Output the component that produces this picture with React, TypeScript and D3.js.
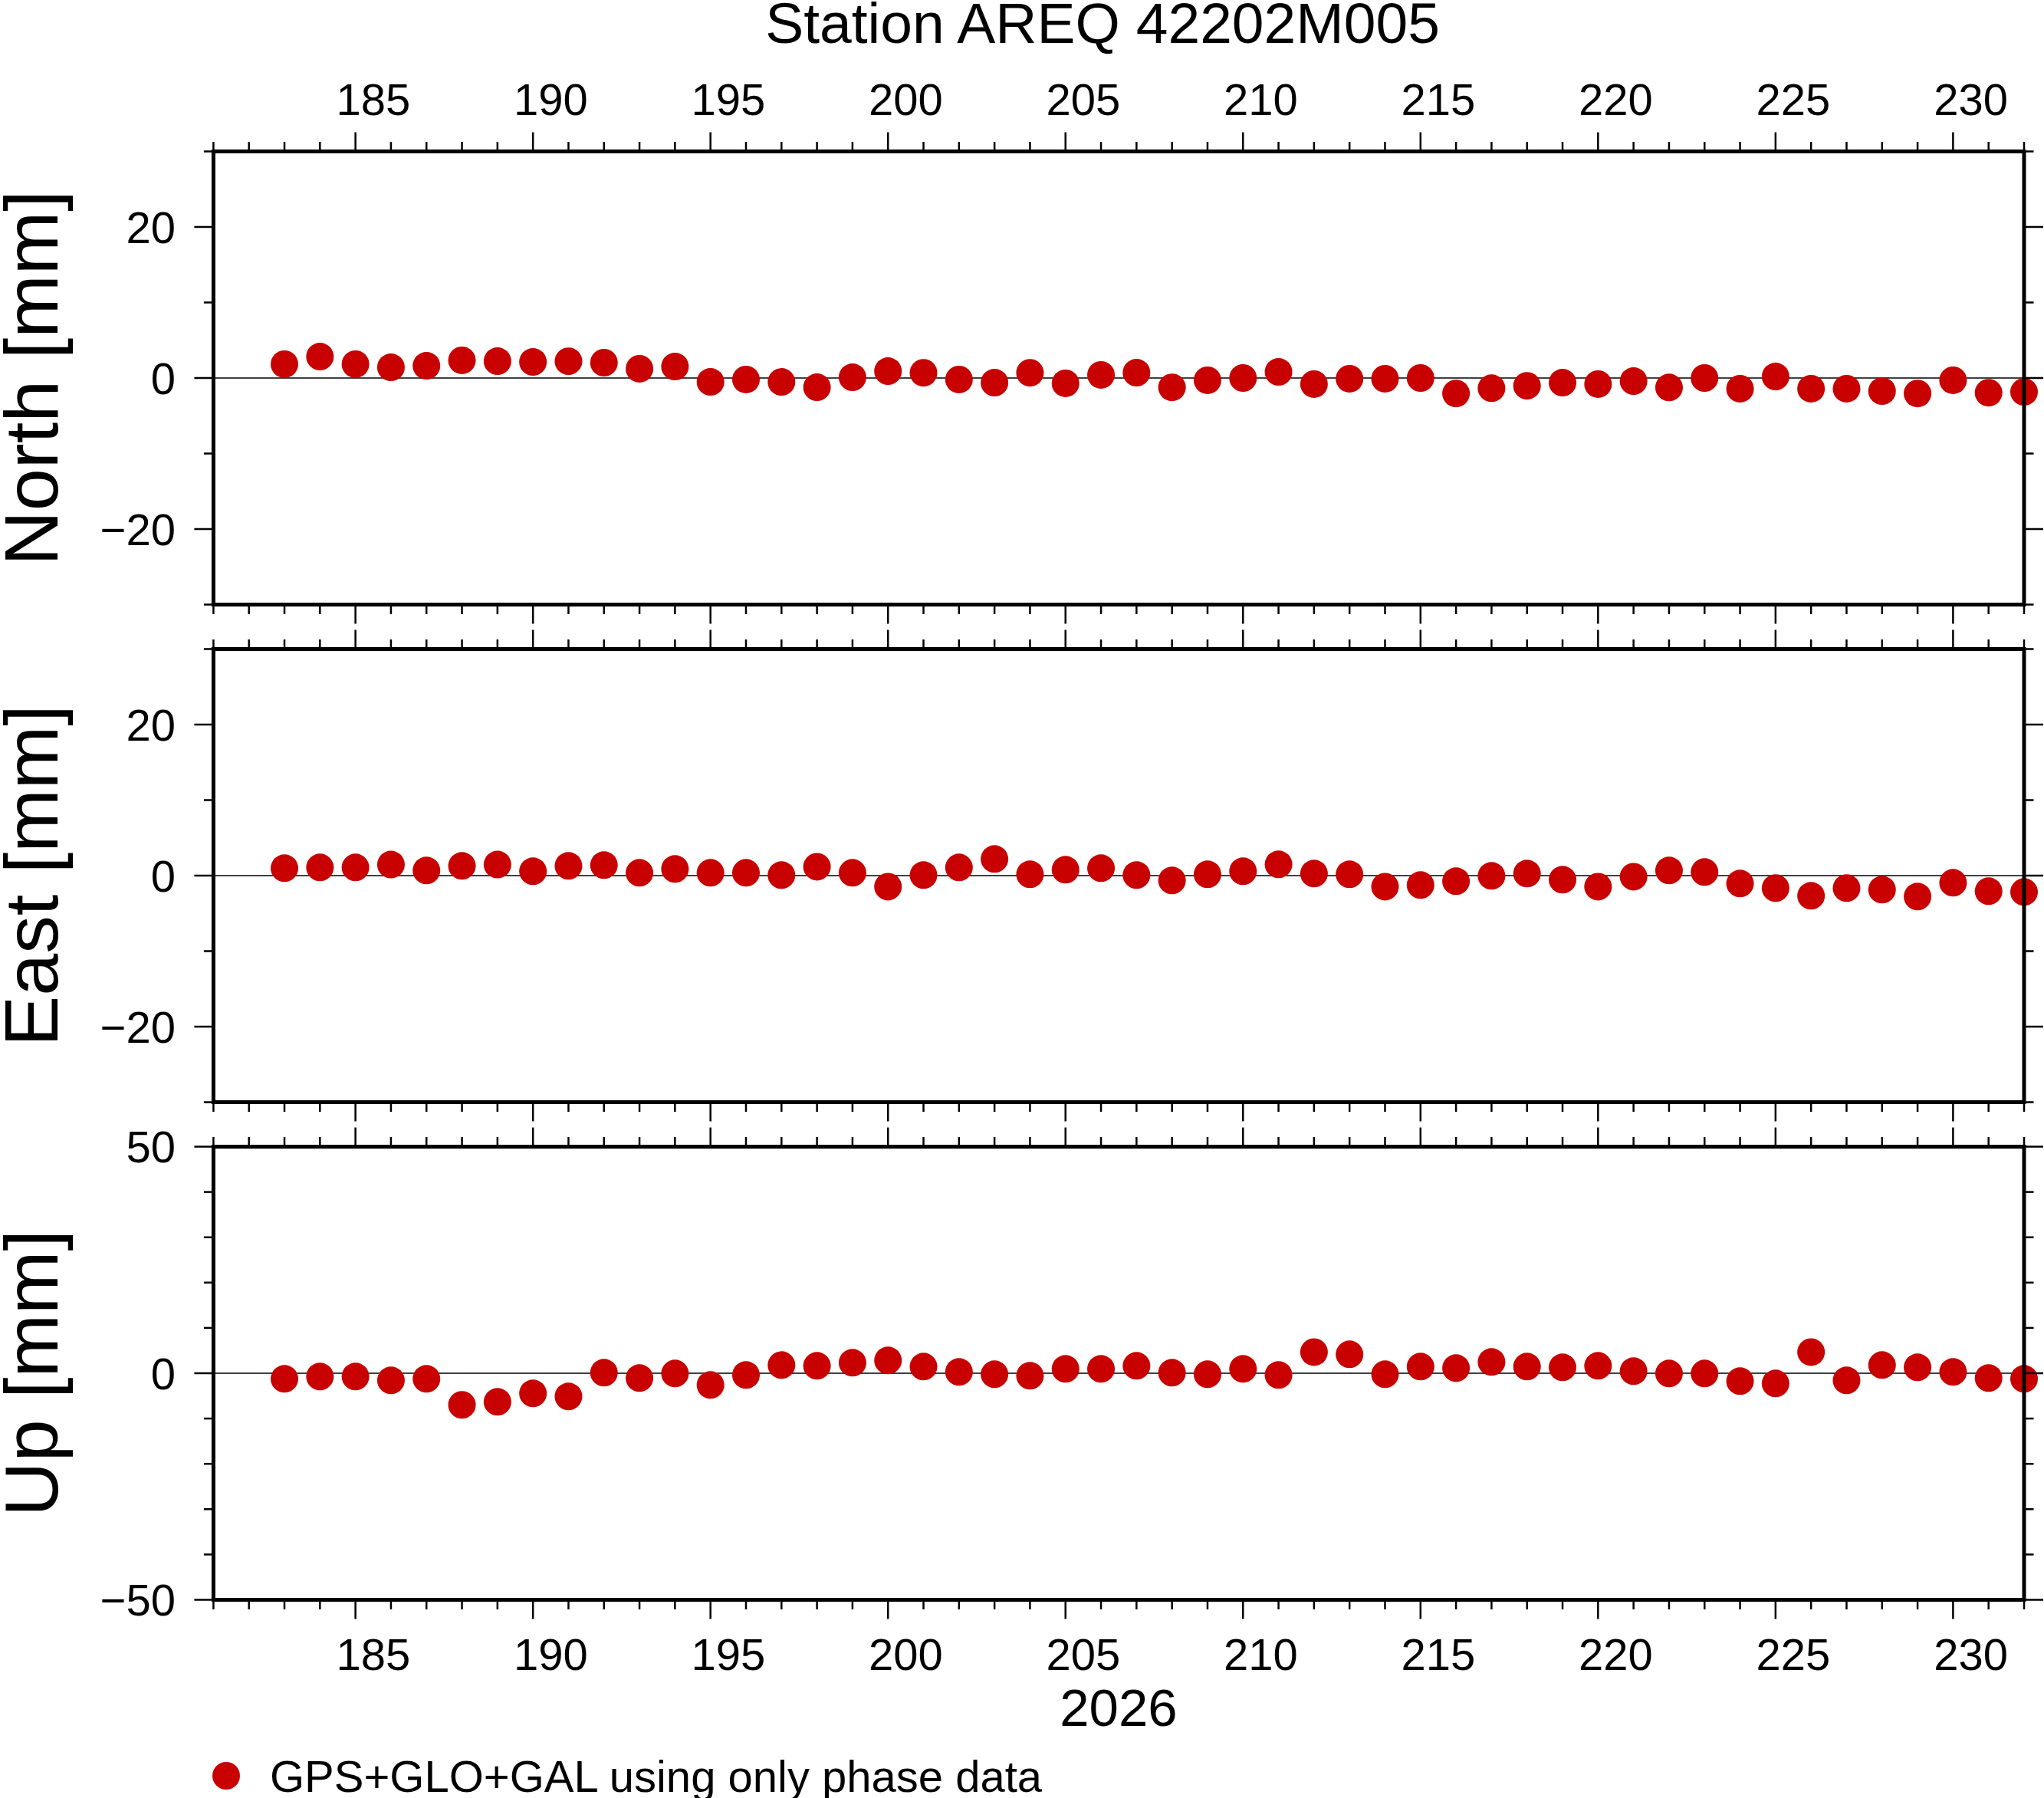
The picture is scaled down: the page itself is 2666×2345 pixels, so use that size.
import React from "react";
import * as d3 from "d3";

// day of year 2026
const days = [
  183, 184, 185, 186, 187, 188, 189, 190, 191, 192, 193, 194, 195, 196, 197,
  198, 199, 200, 201, 202, 203, 204, 205, 206, 207, 208, 209, 210, 211, 212,
  213, 214, 215, 216, 217, 218, 219, 220, 221, 222, 223, 224, 225, 226, 227,
  228, 229, 230, 231, 232,
];

const north = [
  1.83, 2.84, 1.83, 1.42, 1.62, 2.34, 2.23, 2.13, 2.22, 2.03, 1.22, 1.52, -0.51,
  -0.2, -0.52, -1.22, 0.1, 0.91, 0.69, -0.2, -0.61, 0.69, -0.71, 0.41, 0.71,
  -1.24, -0.3, 0.0, 0.81, -0.81, -0.1, -0.1, 0.0, -2.05, -1.35, -1.03, -0.61,
  -0.81, -0.41, -1.25, 0.0, -1.42, 0.2, -1.42, -1.42, -1.73, -2.05, -0.3, -1.95,
  -1.84,
];

const east = [
  0.98, 1.08, 1.08, 1.47, 0.68, 1.29, 1.47, 0.58, 1.29, 1.39, 0.37, 0.88, 0.37,
  0.37, 0.07, 1.18, 0.37, -1.46, 0.07, 1.08, 2.2, 0.17, 0.78, 0.98, 0.07, -0.64,
  0.17, 0.58, 1.49, 0.27, 0.17, -1.46, -1.25, -0.74, -0.03, 0.27, -0.54, -1.46,
  -0.14, 0.68, 0.47, -1.05, -1.66, -2.67, -1.66, -1.86, -2.77, -0.95, -2.06,
  -2.17,
];

const up = [
  -1.24, -0.73, -0.73, -1.58, -1.24, -6.98, -6.31, -4.45, -5.12, 0.11, -1.07,
  -0.06, -2.59, -0.39, 1.8, 1.63, 2.31, 2.82, 1.46, 0.28, -0.23, -0.56, 0.96,
  0.96, 1.63, 0.11, -0.23, 0.96, -0.39, 4.67, 4.17, -0.23, 1.46, 1.13, 2.48,
  1.46, 1.3, 1.63, 0.45, -0.06, -0.06, -1.75, -2.25, 4.67, -1.58, 1.8, 1.3, 0.28,
  -1.07, -1.24,
];

const xLabels = [185, 190, 195, 200, 205, 210, 215, 220, 225, 230];
const horizTicksMajor = [-20, 0, 20];
const horizTicksMinor = [-30, -10, 10, 30];
const upTicksMajor = [-50, 0, 50];
const upTicksMinor = [-40, -30, -20, -10, 10, 20, 30, 40];

const title = "Station AREQ 42202M005";
const yearLabel = "2026";
const legendLabel = "GPS+GLO+GAL using only phase data";

const W = 2666;
const H = 2345;
const FONT = "'Liberation Sans', Arial, Helvetica, sans-serif";
const RED = "#c80000";
const X0 = 278.4;
const X1 = 2640;
const PANEL_H = 591;
const PANEL_TOPS = [197.5, 846.5, 1495.5];
const MAJ = 25;
const MIN = 12.5;

const x = d3.scaleLinear().domain([181, 232]).range([X0, X1]);
const xMinor = d3.range(181, 233);

const fmt = (v: number) => (v < 0 ? "\u2212" + Math.abs(v) : String(v));

type PanelProps = {
  top: number;
  values: number[];
  domain: [number, number];
  major: number[];
  minor: number[];
  label: string;
  topLabels?: boolean;
  bottomLabels?: boolean;
};

const Panel: React.FC<PanelProps> = ({
  top,
  values,
  domain,
  major,
  minor,
  label,
  topLabels,
  bottomLabels,
}) => {
  const bottom = top + PANEL_H;
  const y = d3.scaleLinear().domain(domain).range([bottom, top]);
  const tickW = 2.5;
  return (
    <g>
      {/* zero line */}
      <line x1={X0} x2={X1} y1={y(0)} y2={y(0)} stroke="#000" strokeWidth={1.3} />
      {/* dots */}
      {days.map((d, i) => (
        <circle key={d} cx={x(d)} cy={y(values[i])} r={18} fill={RED} />
      ))}
      {/* x ticks top & bottom */}
      {xMinor.map((d) => {
        const len = d % 5 === 0 ? MAJ : MIN;
        return (
          <g key={"xt" + d} stroke="#000" strokeWidth={tickW}>
            <line x1={x(d)} x2={x(d)} y1={top} y2={top - len} />
            <line x1={x(d)} x2={x(d)} y1={bottom} y2={bottom + len} />
          </g>
        );
      })}
      {/* y ticks left & right */}
      {[...major.map((v) => [v, MAJ]), ...minor.map((v) => [v, MIN])].map(
        ([v, len]) => (
          <g key={"yt" + v} stroke="#000" strokeWidth={tickW}>
            <line x1={X0} x2={X0 - len} y1={y(v)} y2={y(v)} />
            <line x1={X1} x2={X1 + len} y1={y(v)} y2={y(v)} />
          </g>
        )
      )}
      {/* frame */}
      <rect
        x={X0}
        y={top}
        width={X1 - X0}
        height={PANEL_H}
        fill="none"
        stroke="#000"
        strokeWidth={5}
      />
      {/* y tick labels */}
      {major.map((v) => (
        <text
          key={"yl" + v}
          x={229}
          y={y(v) + 20.8}
          textAnchor="end"
          fontSize={58}
          fontFamily={FONT}
        >
          {fmt(v)}
        </text>
      ))}
      {topLabels &&
        xLabels.map((d) => (
          <text
            key={"tl" + d}
            x={x(d + 0.5)}
            y={top - 47.5}
            textAnchor="middle"
            fontSize={58}
            fontFamily={FONT}
          >
            {d}
          </text>
        ))}
      {bottomLabels &&
        xLabels.map((d) => (
          <text
            key={"bl" + d}
            x={x(d + 0.5)}
            y={bottom + 91}
            textAnchor="middle"
            fontSize={58}
            fontFamily={FONT}
          >
            {d}
          </text>
        ))}
      <text
        transform={`translate(75,${(top + bottom) / 2}) rotate(-90)`}
        textAnchor="middle"
        fontSize={99}
        fontFamily={FONT}
      >
        {label}
      </text>
    </g>
  );
};

export default function App() {
  return (
    <svg
      width={W}
      height={H}
      viewBox={`0 0 ${W} ${H}`}
      style={{ position: "absolute", left: 0, top: 0, background: "#fff" }}
    >
      <rect x={0} y={0} width={W} height={H} fill="#fff" />
      <text x={1438} y={56} textAnchor="middle" fontSize={75} fontFamily={FONT}>
        {title}
      </text>
      <Panel
        top={PANEL_TOPS[0]}
        values={north}
        domain={[-30, 30]}
        major={horizTicksMajor}
        minor={horizTicksMinor}
        label="North [mm]"
        topLabels
      />
      <Panel
        top={PANEL_TOPS[1]}
        values={east}
        domain={[-30, 30]}
        major={horizTicksMajor}
        minor={horizTicksMinor}
        label="East [mm]"
      />
      <Panel
        top={PANEL_TOPS[2]}
        values={up}
        domain={[-50, 50]}
        major={upTicksMajor}
        minor={upTicksMinor}
        label="Up [mm]"
        bottomLabels
      />
      <text x={1459} y={2251} textAnchor="middle" fontSize={69} fontFamily={FONT}>
        {yearLabel}
      </text>
      <circle cx={295} cy={2316} r={18} fill={RED} />
      <text x={352} y={2337} fontSize={58} fontFamily={FONT}>
        {legendLabel}
      </text>
    </svg>
  );
}
